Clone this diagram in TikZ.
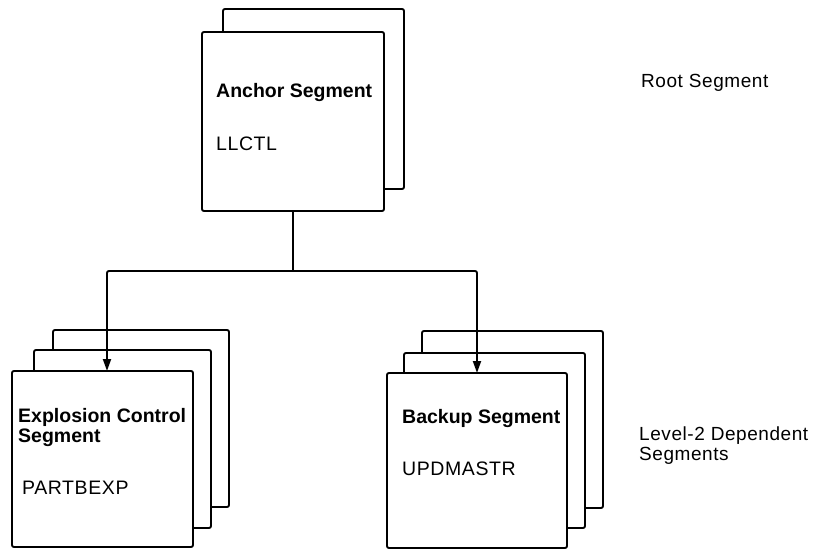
\documentclass[tikz,border=0pt]{standalone}
\usepackage{fontspec}
\setmainfont{Liberation Sans}
\newfontfamily\trackfont[LetterSpace=3]{Liberation Sans}
\usetikzlibrary{arrows.meta}
\begin{document}
\begin{tikzpicture}[x=1pt,y=1pt,
  segbox/.style={draw, fill=white, line width=1.9pt, rounded corners=2pt,
    rectangle, anchor=north west, inner sep=0pt, outer sep=0pt,
    minimum width=#1},
  segbox/.default=181pt,
  title/.style={anchor=base west, inner sep=0pt, align=left,
    font=\bfseries\fontsize{19.5}{20}\selectfont},
  code/.style={anchor=base west, inner sep=0pt,
    font=\trackfont\fontsize{19.5}{20}\selectfont},
  label/.style={anchor=base west, inner sep=0pt, align=left,
    font=\trackfont\fontsize{19}{19.5}\selectfont},
  link/.style={line width=1.9pt},
  arr/.style={line width=1.9pt, -{Triangle[length=12pt,width=8pt]}}
]
\useasboundingbox (0,0) rectangle (820,-550);
% root group
\node[segbox, minimum height=180pt] (rootback) at (223,-9) {};
\node[segbox, minimum height=179pt, minimum width=182pt] (root) at (202,-32) {};
\node[title] (roott) at (216,-97) {Anchor Segment};
\node[code] (rootc) at (216,-150) {LLCTL};
% left group
\node[segbox, minimum height=177pt, minimum width=176pt] (lback) at (53,-330) {};
\node[segbox, minimum height=178pt, minimum width=177pt] (lmid) at (34,-350) {};
\node[segbox, minimum height=176pt] (lfront) at (12,-371) {};
\node[title] (lt) at (18,-442) {Explosion Control\\Segment};
\node[code] (lc) at (22,-494) {PARTBEXP};
% right group
\node[segbox, minimum height=177pt] (rback) at (422,-331) {};
\node[segbox, minimum height=175pt] (rmid) at (404,-353) {};
\node[segbox, minimum height=175pt, minimum width=180pt] (rfront) at (387,-373) {};
\node[title] (rt) at (402,-423) {Backup Segment};
\node[code] (rc) at (402,-475) {UPDMASTR};
% side labels
\node[label] (lvl1) at (641,-87) {Root Segment};
\node[label] (lvl2) at (639,-460) {Level-2 Dependent\\Segments};
% connectors
\coordinate (jl) at (107,-271);
\coordinate (jr) at (477,-271);
\draw[link] (root.south) -- (root.south |- jl);
\draw[link, rounded corners=2pt] ([yshift=-20pt]jl) -- (jl) -- (jr) -- ([yshift=-20pt]jr);
\draw[arr] ([yshift=-19pt]jl) -- (jl |- lfront.north);
\draw[arr] ([yshift=-19pt]jr) -- (jr |- rfront.north);
\end{tikzpicture}
\end{document}
